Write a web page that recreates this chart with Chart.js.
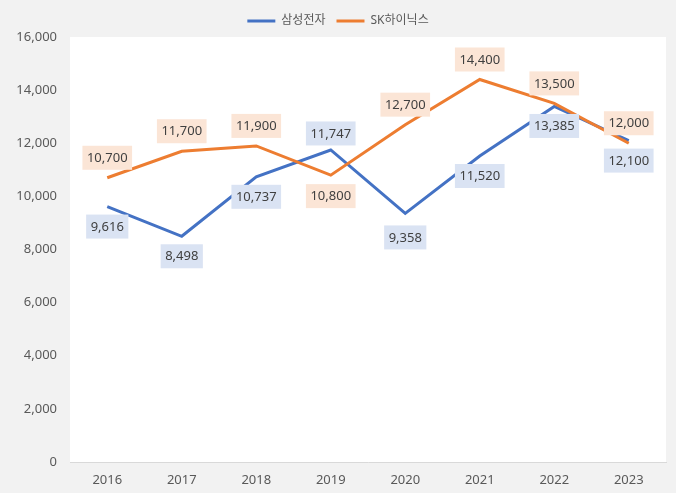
<!DOCTYPE html>
<html>
<head>
<meta charset="utf-8">
<script src="https://cdn.jsdelivr.net/npm/chart.js@4.4.1/dist/chart.umd.min.js"></script>
<style>
  html, body { margin: 0; padding: 0; background: #f2f2f2; }
  #wrap { width: 676px; height: 493px; }
</style>
</head>
<body>
<div id="wrap"><canvas id="c" width="676" height="493"></canvas></div>
<script>
// ---- data ----
const years = ['2016', '2017', '2018', '2019', '2020', '2021', '2022', '2023'];
const samsung = [9616, 8498, 10737, 11747, 9358, 11520, 13385, 12100];
const skhynix = [10700, 11700, 11900, 10800, 12700, 14400, 13500, 12000];
const seriesNames = ['삼성전자', 'SK하이닉스'];
const yTicks = [0, 2000, 4000, 6000, 8000, 10000, 12000, 14000, 16000];

// ---- label placement (style only) ----
const samsungLabelSide = ['below', 'below', 'below', 'above', 'below', 'below', 'below', 'below'];
const skLabelSide = ['above', 'above', 'above', 'below', 'above', 'above', 'above', 'above'];
const samsungLabelGap = [20, 20, 20, 16.5, 24, 20, 19.5, 20];
const skLabelGap = [20, 20, 20, 21, 20, 20, 20, 20];

const FONT = '"Noto Sans", "Noto Sans CJK KR", sans-serif';
const BLUE = '#4472c4';
const ORANGE = '#ed7d31';

const bgPlugin = {
  id: 'bg',
  beforeDraw(chart) {
    const { ctx, chartArea: a } = chart;
    ctx.save();
    ctx.fillStyle = '#f2f2f2';
    ctx.fillRect(0, 0, chart.width, chart.height);
    ctx.fillStyle = '#ffffff';
    ctx.fillRect(a.left, a.top, a.right - a.left, a.bottom - a.top);
    ctx.restore();
  }
};

const labelPlugin = {
  id: 'boxLabels',
  afterDatasetsDraw(chart) {
    const ctx = chart.ctx;
    ctx.save();
    ctx.font = '13px ' + FONT;
    ctx.textAlign = 'center';
    ctx.textBaseline = 'middle';
    chart.data.datasets.forEach((ds, di) => {
      const meta = chart.getDatasetMeta(di);
      meta.data.forEach((pt, i) => {
        const txt = ds.data[i].toLocaleString('en-US');
        const side = ds.labelSide[i];
        const g = ds.labelGap[i];
        const cy = pt.y + (side === 'above' ? -g : g);
        const w = ctx.measureText(txt).width + 9;
        const h = 24;
        ctx.fillStyle = ds.labelBg;
        ctx.fillRect(pt.x - w / 2, cy - h / 2, w, h);
        ctx.fillStyle = '#404040';
        ctx.fillText(txt, pt.x, cy + 0.5);
      });
    });
    ctx.restore();
  }
};

new Chart(document.getElementById('c'), {
  type: 'line',
  data: {
    labels: years,
    datasets: [
      {
        label: seriesNames[0], data: samsung, borderColor: BLUE, backgroundColor: BLUE,
        borderWidth: 3, pointRadius: 0, tension: 0, order: 1,
        labelSide: samsungLabelSide, labelGap: samsungLabelGap, labelBg: '#dae3f3'
      },
      {
        label: seriesNames[1], data: skhynix, borderColor: ORANGE, backgroundColor: ORANGE,
        borderWidth: 3, pointRadius: 0, tension: 0, order: 0,
        labelSide: skLabelSide, labelGap: skLabelGap, labelBg: '#fbe5d6'
      }
    ]
  },
  options: {
    responsive: false,
    animation: false,
    devicePixelRatio: 1,
    layout: { padding: { top: 4, right: 0, bottom: 0, left: 0 } },
    plugins: {
      tooltip: { enabled: false },
      legend: {
        position: 'top',
        labels: {
          usePointStyle: true,
          pointStyle: 'line',
          pointStyleWidth: 28,
          boxHeight: 3,
          padding: 11,
          color: '#595959',
          font: { size: 12, family: FONT },
          sort: (a, b) => a.datasetIndex - b.datasetIndex
        }
      }
    },
    scales: {
      x: {
        offset: true,
        grid: { display: false, drawTicks: false },
        border: { display: true, color: '#d9d9d9', width: 1 },
        ticks: { color: '#595959', font: { size: 13, family: FONT }, padding: 10, maxRotation: 0 },
        afterFit(s) { s.height = 31; }
      },
      y: {
        min: 0, max: 16000,
        afterBuildTicks(s) { s.ticks = yTicks.map(v => ({ value: v })); },
        grid: { display: false, drawTicks: false },
        border: { display: false },
        ticks: {
          color: '#595959', font: { size: 13, family: FONT }, padding: 13,
          callback: v => v.toLocaleString('en-US')
        },
        afterFit(s) { s.width = 70; }
      },
      yRight: {
        position: 'right',
        display: true,
        grid: { display: false, drawTicks: false },
        border: { display: false },
        ticks: { display: false },
        afterFit(s) { s.width = 10; }
      }
    }
  },
  plugins: [bgPlugin, labelPlugin]
});
</script>
</body>
</html>
